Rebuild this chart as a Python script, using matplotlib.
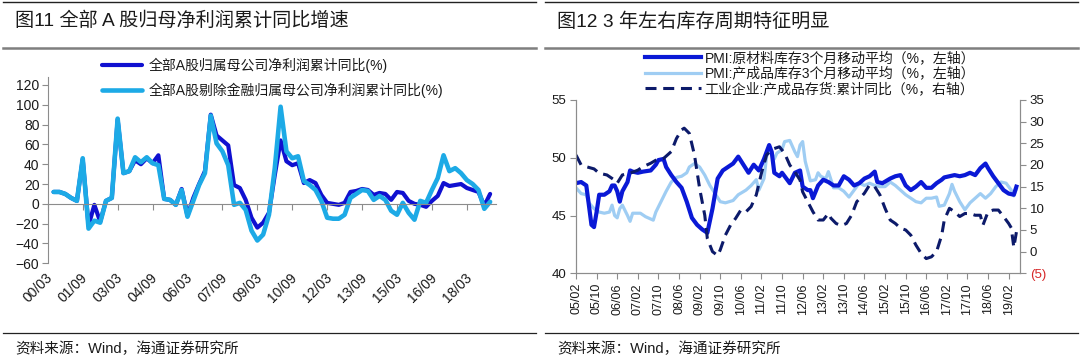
import matplotlib
matplotlib.use("Agg")
import matplotlib.pyplot as plt
from matplotlib.lines import Line2D

plt.rcParams['font.family'] = ['Liberation Sans', 'Noto Sans CJK SC']

W, H = 1080, 360

# ---- 图11: quarterly, 2000/06 .. 2019/03 (index 0 = 2000/03) ----
q_idx = list(range(1, 77))
all_a = [12, 12, 10, 6, 3, 45, -22, -1, -18, 3,
         6, 85, 31, 33, 44, 40, 46, 41, 49, 5,
         4, -1, 15, -12, 6, 20, 33, 90, 69, 64,
         59, 19, 16, 4, -14, -24, -19, -9, 29, 64,
         43, 39, 41, 21, 24, 21, 9, 1, 0, -1,
         1, 12, 13, 15, 14, 9, 11, 10, 4, 12,
         11, 3, 0, -1, -3, 3, 8, 21, 18, 19,
         20, 16, 14, 12, -2, 10]
ex_fin = [12, 12, 10, 6, 3, 46, -25, -17, -19, 3,
          6, 86, 31, 33, 47, 42, 47, 41, 39, 5,
          4, -1, 14, -13, 3, 19, 31, 89, 61, 53,
          39, -1, 1, -6, -27, -37, -31, -11, 36, 98,
          53, 46, 48, 23, 19, 14, 3, -14, -15, -15,
          -11, 6, 10, 14, 13, 4, 8, 4, -7, -11,
          1, -9, -16, 3, 1, 14, 26, 49, 33, 36,
          31, 24, 20, 14, -5, 2]
q_labels = ['00/03', '01/09', '03/03', '04/09', '06/03', '07/09', '09/03',
            '10/09', '12/03', '13/09', '15/03', '16/09', '18/03']
q_tick_idx = [0, 6, 12, 18, 24, 30, 36, 42, 48, 54, 60, 66, 72]

# ---- 图12: monthly, month index 0 = 2005/02 ----
raw_m = [0, 2, 4, 5, 6, 7, 8, 9, 11, 13, 14, 15, 16, 17, 18, 20, 21, 22, 24, 26,
         29, 31, 32, 34, 35, 37, 39, 41, 43, 45, 47, 49, 51, 53, 55, 57, 59, 61, 63, 65,
         67, 69, 71, 73, 75, 76, 77, 79, 80, 82, 83, 85, 87, 88, 90, 91, 92, 94, 96, 98,
         100, 102, 104, 106, 108, 110, 112, 114, 116, 117, 119, 122, 124, 126, 128, 130,
         132, 134, 136, 138, 140, 142, 143, 145, 147, 149, 151, 153, 155, 157, 159, 160,
         162, 164, 166, 168, 170, 171]
raw_v = [47.8, 47.9, 47.6, 45.9, 44.2, 44.0, 45.3, 46.8, 46.8, 47.1, 47.6, 47.6, 47.1, 46.2,
         47.1, 47.9, 48.9, 48.8, 48.7, 48.8, 48.9, 49.4, 49.8, 49.9, 49.2, 48.5, 47.9, 47.4,
         46.2, 44.8, 44.2, 43.8, 43.5, 45.6, 48.2, 48.9, 49.2, 49.5, 50.1, 49.4, 48.7, 49.4,
         48.9, 49.9, 51.1, 50.5, 48.7, 48.4, 48.7, 48.1, 47.8, 48.7, 48.9, 47.5, 47.2, 47.2,
         46.5, 47.6, 48.1, 47.9, 47.6, 47.6, 48.4, 48.1, 47.6, 47.8, 48.2, 48.4, 48.8, 47.9,
         47.8, 48.2, 48.4, 48.5, 47.6, 47.2, 47.5, 47.9, 47.4, 47.4, 47.8, 48.1, 48.3, 48.4,
         48.5, 48.4, 48.5, 48.7, 48.5, 49.1, 49.5, 49.1, 48.4, 47.8, 47.2, 46.9, 46.8, 47.5]
fin_m = [0, 2, 4, 5, 7, 9, 11, 13, 14, 15, 16, 17, 18, 20, 21, 22, 25, 27, 30, 31,
         33, 35, 37, 39, 41, 43, 44, 46, 48, 50, 52, 54, 56, 58, 61, 63, 66, 68, 70, 71,
         73, 74, 75, 76, 77, 78, 80, 81, 83, 85, 86, 87, 88, 89, 91, 93, 94, 95, 97, 98,
         99, 100, 102, 104, 106, 108, 110, 112, 114, 116, 118, 120, 122, 124, 126, 128,
         130, 132, 134, 136, 138, 140, 141, 143, 145, 146, 147, 149, 151, 153, 155, 157,
         159, 161, 163, 165, 167, 169, 170, 171]
fin_v = [47.4, 46.9, 46.8, 46.1, 45.6, 45.3, 45.2, 45.3, 45.9, 45.0, 44.8, 45.6, 45.9, 45.0,
         44.5, 45.2, 45.2, 44.9, 44.6, 45.3, 46.2, 47.1, 47.9, 48.3, 48.4, 48.7, 49.2, 49.5,
         49.2, 48.5, 47.6, 46.9, 46.2, 46.1, 46.3, 46.8, 47.2, 47.6, 48.1, 47.2, 48.2, 50.1,
         50.8, 50.4, 49.9, 50.4, 50.7, 51.4, 51.5, 50.5, 50.1, 51.1, 51.4, 49.7, 48.0, 48.1,
         48.7, 48.4, 48.2, 48.8, 48.1, 47.4, 47.4, 47.1, 46.6, 47.2, 47.8, 47.6, 47.8, 47.6,
         47.5, 47.5, 47.9, 47.6, 47.2, 46.8, 46.5, 46.2, 46.1, 46.5, 46.5, 46.6, 45.8, 45.9,
         46.9, 47.7, 47.1, 46.2, 45.5, 46.1, 46.5, 46.9, 46.5, 46.9, 47.5, 47.9, 47.8, 47.2,
         46.7, 47.3]
st_m = [0, 2, 4, 7, 9, 12, 15, 16, 18, 21, 24, 26, 29, 31, 34, 37, 39, 41, 42, 44,
        46, 48, 50, 51, 53, 55, 56, 58, 60, 62, 64, 66, 68, 70, 72, 74, 76, 77, 79, 81,
        83, 85, 87, 88, 90, 92, 94, 96, 98, 99, 101, 103, 105, 107, 109, 112, 114, 116, 118, 120,
        122, 124, 126, 128, 130, 132, 134, 136, 138, 140, 142, 143, 145, 147, 149, 151, 153, 155,
        157, 158, 160, 162, 164, 166, 168, 169, 170, 171]
st_v = [22.3, 20.0, 19.6, 19.1, 18.1, 17.7, 16.5, 15.8, 17.7, 18.1, 18.8, 19.6, 20.4, 21.1,
        21.5, 23.1, 26.1, 28.1, 28.5, 27.3, 22.3, 14.6, 8.4, 3.0, 0.0, -0.9, 0.4, 3.8, 6.1, 7.7,
        9.6, 9.2, 10.4, 13.1, 18.1, 22.3, 23.5, 23.8, 24.2, 22.7, 20.0, 18.4, 16.5, 13.8, 11.5,
        9.2, 7.3, 7.3, 8.8, 7.7, 6.5, 6.0, 6.5, 8.4, 11.5, 13.5, 15.4, 15.0, 13.1, 10.0, 7.3,
        6.5, 5.4, 5.0, 3.8, 1.5, -0.4, -1.6, -1.2, 0.0, 3.8, 7.3, 10.0, 9.2, 8.1, 8.8, 8.8,
        8.4, 8.4, 6.1, 9.2, 9.6, 9.6, 8.1, 6.5, 5.5, 1.0, 4.5]
m_labels = ['05/02', '05/10', '06/06', '07/02', '07/10', '08/06', '09/02', '09/10',
            '10/06', '11/02', '11/10', '12/06', '13/02', '13/10', '14/06', '15/02',
            '15/10', '16/06', '17/02', '17/10', '18/06', '19/02']
m_tick_idx = list(range(0, 169, 8))

fig = plt.figure(figsize=(W / 100, H / 100), dpi=100)


def px_axes(l, t, r, b):
    return fig.add_axes([l / W, 1 - b / H, (r - l) / W, (b - t) / H])


def hline(x0, x1, y, color, lw):
    fig.add_artist(Line2D([x0 / W, x1 / W], [1 - y / H, 1 - y / H],
                          transform=fig.transFigure, color=color, lw=lw))


axis_gray = '#8c8c8c'
txt = '#1a1a1a'

# frame lines, titles, sources
for x0, x1 in [(3, 536), (545, 1078)]:
    hline(x0, x1, 2, '#222222', 1.0)
    hline(x0, x1, 48, '#7f7f7f', 1.8)
    hline(x0, x1, 333, '#222222', 0.9)

fig.text(15 / W, 1 - 21 / H, '图11 全部 A 股归母净利润累计同比增速', fontsize=13.8,
         va='center', ha='left', color=txt)
fig.text(557 / W, 1 - 21 / H, '图12 3 年左右库存周期特征明显', fontsize=13.8,
         va='center', ha='left', color=txt)
fig.text(15 / W, 1 - 349 / H, '资料来源：Wind，海通证券研究所', fontsize=10.5,
         va='center', ha='left', color=txt)
fig.text(557 / W, 1 - 349 / H, '资料来源：Wind，海通证券研究所', fontsize=10.5,
         va='center', ha='left', color=txt)

# ---------------- left chart ----------------
ax1 = px_axes(47.8, 77, 47.8 + 5.82 * 77, 263.3)
ax1.plot(q_idx, all_a, color='#1010D0', lw=3.0, solid_capstyle='round',
         label='全部A股归属母公司净利润累计同比(%)')
ax1.plot(q_idx, ex_fin, color='#1DAAE6', lw=3.3, solid_capstyle='round',
         label='全部A股剔除金融归属母公司净利润累计同比(%)')
ax1.set_xlim(0, 77)
ax1.set_ylim(-60, 128)
ax1.set_yticks(range(-60, 121, 20))
ax1.set_xticks(q_tick_idx)
ax1.set_xticklabels([])
for s in ['top', 'right']:
    ax1.spines[s].set_visible(False)
ax1.spines['left'].set_color(axis_gray)
ax1.spines['bottom'].set_color(axis_gray)
ax1.spines['bottom'].set_position(('data', 0))
ax1.tick_params(axis='y', direction='out', length=4, color=axis_gray,
                labelsize=10, labelcolor=txt, pad=2)
ax1.tick_params(axis='x', direction='out', length=4, color=axis_gray)
for i, lbl in zip(q_tick_idx, q_labels):
    ax1.annotate(lbl, xy=(i, 0), xycoords=('data', 'axes fraction'),
                 xytext=(2, -9), textcoords='offset points', rotation=45,
                 rotation_mode='anchor', ha='right', va='center',
                 fontsize=10, color=txt)
ax1.legend(loc='upper left', bbox_to_anchor=(102 / W, 1 - 58 / H),
           bbox_transform=fig.transFigure, frameon=False, fontsize=10,
           handlelength=2.9, handletextpad=0.45, labelspacing=0.7,
           borderpad=0, borderaxespad=0, labelcolor=txt)

# ---------------- right chart ----------------
ax2 = px_axes(576, 100, 1020, 273.3)
l_fin, = ax2.plot(fin_m, fin_v, color='#9FCDF3', lw=2.3,
                  label='PMI:产成品库存3个月移动平均（%，左轴）')
l_raw, = ax2.plot(raw_m, raw_v, color='#0A19D6', lw=3.0,
                  label='PMI:原材料库存3个月移动平均（%，左轴）')
ax2.set_xlim(0, 172.4)
ax2.set_ylim(40, 55)
ax2.set_yticks([40, 45, 50, 55])
ax2.set_xticks(m_tick_idx)
ax2.set_xticklabels(m_labels, rotation=90, fontsize=9, color=txt)
ax2r = ax2.twinx()
l_st, = ax2r.plot(st_m, st_v, color='#0C1A6A', lw=2.2, dashes=(3.6, 2.2),
                  label='工业企业:产成品存货:累计同比（%，右轴）')
ax2r.set_ylim(-5, 35)
ax2r.set_yticks(range(-5, 36, 5))
ax2r.set_yticklabels(['(5)'] + [str(v) for v in range(0, 36, 5)])
for a in (ax2, ax2r):
    a.spines['top'].set_visible(False)
    for s in ['left', 'right', 'bottom']:
        a.spines[s].set_color(axis_gray)
ax2.tick_params(axis='both', direction='out', length=4, color=axis_gray,
                labelsize=9.5, labelcolor=txt, pad=3)
ax2.tick_params(axis='x', labelsize=9)
ax2r.tick_params(axis='y', direction='out', length=4, color=axis_gray,
                 labelsize=9.5, pad=3)
for t in ax2r.get_yticklabels()[1:]:
    t.set_color(txt)
ax2r.get_yticklabels()[0].set_color('#D62728')
ax2r.legend(handles=[l_raw, l_fin, l_st], loc='upper left',
            bbox_to_anchor=(645 / W, 1 - 51 / H), bbox_transform=fig.transFigure,
            frameon=False, fontsize=10, handlelength=4.0, handletextpad=0.3,
            labelspacing=0.12, borderpad=0, borderaxespad=0, labelcolor=txt)

fig.savefig('out.png', dpi=100)
